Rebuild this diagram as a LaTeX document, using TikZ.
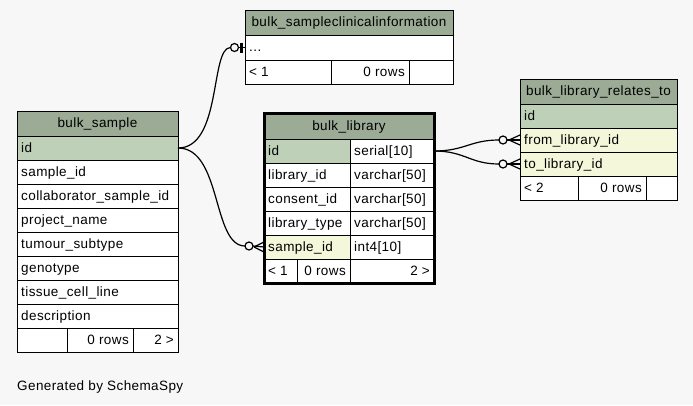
\documentclass[tikz,border=0pt]{standalone}
\usepackage{fontspec}
\setmainfont{Liberation Sans}[LetterSpace=3]
\definecolor{bgc}{HTML}{F7F7F7}
\definecolor{hd}{HTML}{9BAB96}
\definecolor{pk}{HTML}{BED1B8}
\definecolor{ix}{HTML}{F4F7DA}
\newcommand\tcell[6]{\node[cellbox,fill=#6,minimum width={(#4-#2)*1pt},minimum height={(#5-#3)*1pt},anchor=north west] (#1) at (#2,#3) {};}
\newcommand\ltext[2]{\node[celltext,anchor=west] (#1-t) at ([xshift=4pt]#1.west) {#2};}
\newcommand\rtext[2]{\node[celltext,anchor=east] (#1-t) at ([xshift=-4pt]#1.east) {#2};}
\newcommand\ctext[2]{\node[celltext] (#1-t) at (#1.center) {#2};}
\begin{document}
\begin{tikzpicture}[x=1pt,y=-1pt,
  cellbox/.style={draw=black,line width=1pt,inner sep=0pt,outer sep=0pt,rectangle},
  celltext/.style={inner sep=0pt,text height=10.5pt,text depth=2.5pt,font=\fontsize{13.5}{16}\selectfont},
  conn/.style={line width=1.2pt},
  circ/.style={circle,draw=black,line width=1.2pt,fill=bgc,minimum size=8pt,inner sep=0pt,outer sep=0pt}]
\fill[bgc] (0,0) rectangle (693,405);
\useasboundingbox (0,0) rectangle (693,405);

% bulk_sampleclinicalinformation
\tcell{sci-h}{245}{10}{453}{35}{hd}\ctext{sci-h}{bulk\_sampleclinicalinformation}
\tcell{sci-r1}{245}{35}{453}{60}{white}\ltext{sci-r1}{...}
\tcell{sci-f1}{245}{60}{331}{84}{white}\ltext{sci-f1}{< 1}
\tcell{sci-f2}{331}{60}{409}{84}{white}\rtext{sci-f2}{0 rows}
\tcell{sci-f3}{409}{60}{453}{84}{white}

% bulk_library_relates_to
\tcell{rel-h}{520}{79}{677}{104}{hd}\ctext{rel-h}{bulk\_library\_relates\_to}
\tcell{rel-id}{520}{104}{677}{128}{pk}\ltext{rel-id}{id}
\tcell{rel-from}{520}{128}{677}{152}{ix}\ltext{rel-from}{from\_library\_id}
\tcell{rel-to}{520}{152}{677}{176}{ix}\ltext{rel-to}{to\_library\_id}
\tcell{rel-f1}{520}{176}{578}{200}{white}\ltext{rel-f1}{< 2}
\tcell{rel-f2}{578}{176}{646}{200}{white}\rtext{rel-f2}{0 rows}
\tcell{rel-f3}{646}{176}{677}{200}{white}

% bulk_library
\tcell{lib-h}{264}{113}{434}{139}{hd}\ctext{lib-h}{bulk\_library}
\tcell{lib-id}{264}{139}{350}{163}{pk}\ltext{lib-id}{id}
\tcell{lib-id2}{350}{139}{434}{163}{white}\ltext{lib-id2}{serial[10]}
\tcell{lib-lid}{264}{163}{350}{187}{white}\ltext{lib-lid}{library\_id}
\tcell{lib-lid2}{350}{163}{434}{187}{white}\ltext{lib-lid2}{varchar[50]}
\tcell{lib-cid}{264}{187}{350}{211}{white}\ltext{lib-cid}{consent\_id}
\tcell{lib-cid2}{350}{187}{434}{211}{white}\ltext{lib-cid2}{varchar[50]}
\tcell{lib-lt}{264}{211}{350}{235}{white}\ltext{lib-lt}{library\_type}
\tcell{lib-lt2}{350}{211}{434}{235}{white}\ltext{lib-lt2}{varchar[50]}
\tcell{lib-sid}{264}{235}{350}{259}{ix}\ltext{lib-sid}{sample\_id}
\tcell{lib-sid2}{350}{235}{434}{259}{white}\ltext{lib-sid2}{int4[10]}
\tcell{lib-f1}{264}{259}{297}{283}{white}\ltext{lib-f1}{< 1}
\tcell{lib-f2}{297}{259}{350}{283}{white}\rtext{lib-f2}{0 rows}
\tcell{lib-f3}{350}{259}{434}{283}{white}\rtext{lib-f3}{2 >}
\draw[line width=3pt] (264,113) rectangle (434,283);

% bulk_sample
\tcell{bs-h}{17}{111}{178}{136}{hd}\ctext{bs-h}{bulk\_sample}
\tcell{bs-id}{17}{136}{178}{160}{pk}\ltext{bs-id}{id}
\tcell{bs-sid}{17}{160}{178}{184}{white}\ltext{bs-sid}{sample\_id}
\tcell{bs-csid}{17}{184}{178}{208}{white}\ltext{bs-csid}{collaborator\_sample\_id}
\tcell{bs-pn}{17}{208}{178}{232}{white}\ltext{bs-pn}{project\_name}
\tcell{bs-ts}{17}{232}{178}{256}{white}\ltext{bs-ts}{tumour\_subtype}
\tcell{bs-gt}{17}{256}{178}{280}{white}\ltext{bs-gt}{genotype}
\tcell{bs-tcl}{17}{280}{178}{304}{white}\ltext{bs-tcl}{tissue\_cell\_line}
\tcell{bs-de}{17}{304}{178}{328}{white}\ltext{bs-de}{description}
\tcell{bs-f1}{17}{328}{67}{352}{white}
\tcell{bs-f2}{67}{328}{133}{352}{white}\rtext{bs-f2}{0 rows}
\tcell{bs-f3}{133}{328}{178}{352}{white}\rtext{bs-f3}{2 >}

% connectors
\node[circ] (m1) at (234.5,47.5) {};
\draw[conn] (bs-id.east) .. controls (222,148) and (210,47.5) .. (m1.west);
\draw[conn] (m1.east) -- (sci-r1.west);
\draw[line width=2.5pt] ([xshift=-3.5pt,yshift=5pt]sci-r1.west) -- ([xshift=-3.5pt,yshift=-5pt]sci-r1.west);

\node[circ] (m2) at (249,246) {};
\draw[conn] (bs-id.east) .. controls (222,148) and (212,246) .. (m2.west);
\draw[conn] (m2.east) -- (lib-sid.west);
\draw[conn] ([xshift=-10pt]lib-sid.west) -- ([yshift=5pt]lib-sid.west);
\draw[conn] ([xshift=-10pt]lib-sid.west) -- ([yshift=-5pt]lib-sid.west);

\node[circ] (m3) at (503,140) {};
\draw[conn] (lib-id2.east) .. controls (465,151) and (470,140) .. (m3.west);
\draw[conn] (m3.east) -- (rel-from.west);
\draw[conn] ([xshift=-11pt]rel-from.west) -- ([yshift=5pt]rel-from.west);
\draw[conn] ([xshift=-11pt]rel-from.west) -- ([yshift=-5pt]rel-from.west);

\node[circ] (m4) at (503,164) {};
\draw[conn] (lib-id2.east) .. controls (465,151) and (470,164) .. (m4.west);
\draw[conn] (m4.east) -- (rel-to.west);
\draw[conn] ([xshift=-11pt]rel-to.west) -- ([yshift=5pt]rel-to.west);
\draw[conn] ([xshift=-11pt]rel-to.west) -- ([yshift=-5pt]rel-to.west);

\node[celltext,anchor=base west] (gen) at (17,390) {Generated by SchemaSpy};
\end{tikzpicture}
\end{document}
